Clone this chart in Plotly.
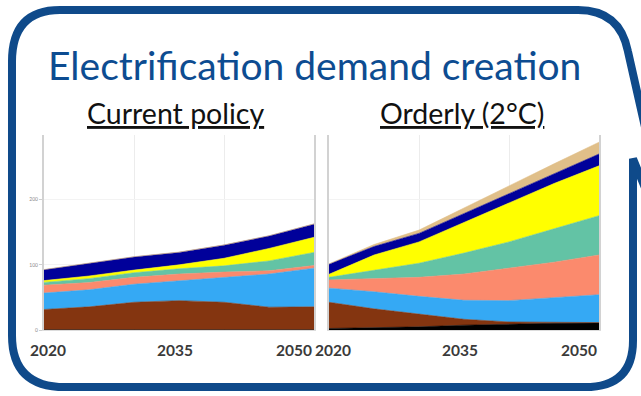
import plotly.graph_objects as go

# Years on the horizontal axis
years = [2020, 2025, 2030, 2035, 2040, 2045, 2050]

# Series names (bottom to top of the stack) and their colours
series_names = ["Other", "Buildings heat", "Transport", "Hydrogen",
                "Industry heat", "Light vehicles", "Appliances", "Synthetic fuels"]
series_colors = ["#000000", "#843510", "#35a9f4", "#fb8a6d",
                 "#63c3a5", "#ffff00", "#00009a", "#e0bf89"]

# Current policy scenario (TWh), one list per layer
current_policy = [
    [1, 1, 1, 1, 1, 1, 1],
    [31, 35, 42, 44.5, 42, 34.5, 35],
    [25, 26, 27.5, 30.5, 38, 50.5, 59],
    [12, 11, 10.5, 10, 8, 5, 4],
    [4.3, 6, 7, 8, 9.5, 15, 20],
    [2.7, 4, 4, 6, 11.5, 19, 23],
    [16.4, 19, 20, 19, 20, 19, 20],
    [0.5, 0.5, 0.5, 0.5, 0.5, 0.5, 0.5],
]

# Orderly (2°C) scenario
orderly = [
    [3, 4, 5.5, 8, 10, 11, 11.5],
    [40, 29, 19.5, 9, 3, 1, 0.5],
    [21.5, 26, 27, 29, 32.5, 37.5, 42.5],
    [12.5, 20, 29, 40, 49.5, 54.5, 60.5],
    [4, 13, 21.5, 32, 40, 51, 60],
    [4.6, 23, 32.5, 47, 60, 69, 76],
    [15.4, 13, 13, 13, 13, 15, 18],
    [0.5, 3, 5, 9, 12, 15, 18],
]

x_labels = [2020, 2035, 2050]
y_ticks = [0, 100, 200]

W, H = 641, 396
BLUE = "#0f4a8a"


def px(x):
    return x / W


def py(y):
    return 1 - y / H


fig = go.Figure()

for axis_id, scenario, group in (("x", current_policy, "cp"), ("x2", orderly, "od")):
    yaxis = "y" if axis_id == "x" else "y2"
    for name, color, values in zip(series_names, series_colors, scenario):
        fig.add_trace(go.Scatter(
            x=years, y=values, name=name, stackgroup=group,
            mode="lines", line=dict(width=0.6, color=color),
            fillcolor=color, xaxis=axis_id, yaxis=yaxis,
            showlegend=False, hoverinfo="skip",
        ))

grid = "#ececec"
common_x = dict(range=[2020, 2050], tickvals=[2030, 2040], showticklabels=False,
                showgrid=True, gridcolor=grid, gridwidth=1, zeroline=False,
                showline=True, linecolor="#dcdcdc", linewidth=1, ticks="")
common_y = dict(range=[0, 298], tickvals=y_ticks, showgrid=True, gridcolor="#f3f3f3",
                zeroline=False, showline=True, mirror=True, linecolor="#d2d2d2",
                linewidth=2)

fig.update_layout(
    width=W, height=H, margin=dict(l=0, r=0, t=0, b=0),
    paper_bgcolor="white", plot_bgcolor="white",
    xaxis=dict(domain=[px(44), px(314)], anchor="y", **common_x),
    xaxis2=dict(domain=[px(329), px(599)], anchor="y2", **common_x),
    yaxis=dict(domain=[py(333), py(136)], anchor="x", showticklabels=True,
               ticks="outside", ticklen=3, tickcolor="#cfcfcf",
               tickfont=dict(size=5, color="#8a8a8a", family="Lato"), **common_y),
    yaxis2=dict(domain=[py(333), py(136)], anchor="x2", showticklabels=False, **common_y),
)

annotations = [
    dict(text="Electrification demand creation", x=px(314), y=py(66),
         xref="paper", yref="paper", showarrow=False, xanchor="center", yanchor="middle",
         font=dict(family="Lato", size=39, color="#0d4c91")),
    dict(text="<u>Current policy</u>", x=px(175), y=py(114),
         xref="paper", yref="paper", showarrow=False, xanchor="center", yanchor="middle",
         font=dict(family="Lato", size=28.5, color="#111111")),
    dict(text="<u>Orderly (2°C)</u>", x=px(462), y=py(114),
         xref="paper", yref="paper", showarrow=False, xanchor="center", yanchor="middle",
         font=dict(family="Lato", size=28.5, color="#111111")),
]

label_font = dict(family="Lato", size=15.5, color="#3a3a3a", weight="bold")
for xref in ("x", "x2"):
    for yr in x_labels:
        if yr == 2050:
            anchor, shift = "right", 0
        elif yr == 2020:
            anchor, shift = "center", 4
        else:
            anchor, shift = "center", -4
        annotations.append(dict(text=str(yr), x=yr, y=py(353), xref=xref, yref="paper",
                                showarrow=False, xanchor=anchor, yanchor="middle",
                                xshift=shift, font=label_font))

fig.update_layout(annotations=annotations)

# Speech-bubble outline drawn in pixel space, converted to paper coordinates
pts = [
    ("M", (60, 10)), ("L", (578, 10)), ("Q", (620, 10), (628, 52)),
    ("L", (675, 262)), ("L", (633, 160)), ("L", (633, 343)),
    ("Q", (633, 390), (585, 390)), ("L", (65, 390)),
    ("Q", (12, 390), (12, 338)), ("L", (12, 62)), ("Q", (12, 10), (60, 10)),
]
path = ""
for cmd, *coords in pts:
    path += cmd + " " + " ".join(f"{px(a):.5f},{py(b):.5f}" for a, b in coords) + " "
path += "Z"

fig.add_shape(type="path", path=path, xref="paper", yref="paper",
              line=dict(color=BLUE, width=8), fillcolor="rgba(0,0,0,0)", layer="above")

fig.write_html("out.html")
